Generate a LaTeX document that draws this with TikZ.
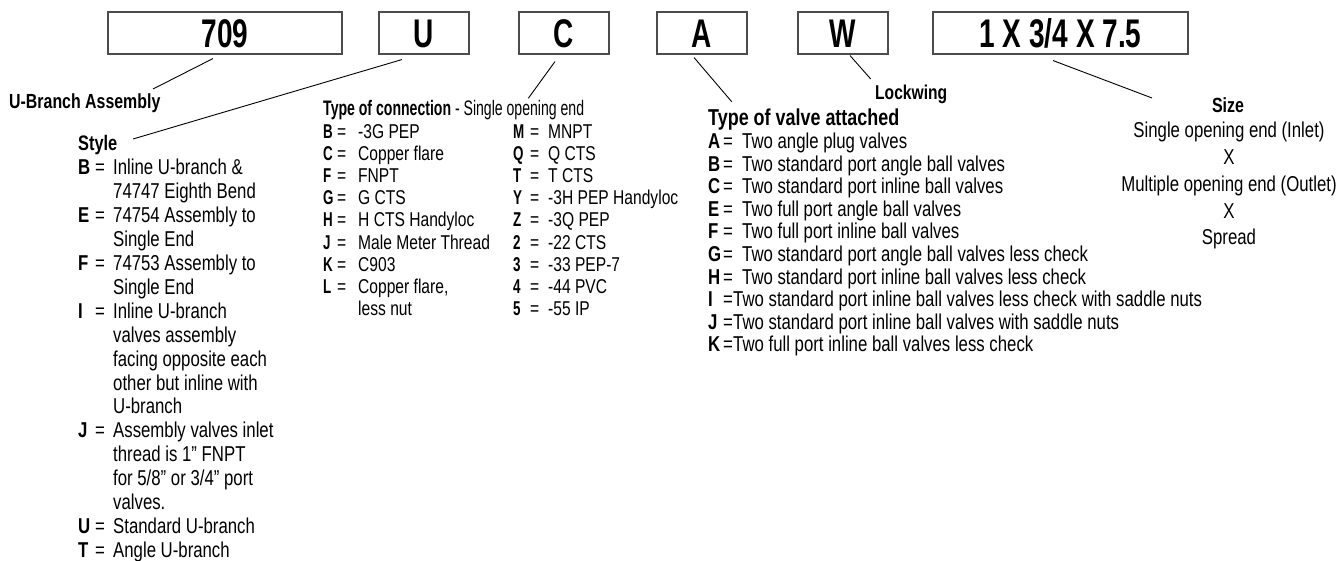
\documentclass[tikz,border=0pt]{standalone}
\usepackage{fontspec}
\setmainfont{Liberation Sans}[FakeStretch=0.78]
\newfontfamily\boxfont{Liberation Sans}[FakeStretch=0.70]
\newfontfamily\condfont{Liberation Sans}[FakeStretch=0.67]
\usetikzlibrary{calc}
\tikzset{
  codebox/.style={draw=black!70, line width=1.1pt, inner sep=0pt,
    font=\boxfont\bfseries\fontsize{40}{40}\selectfont, text height=29pt, text depth=0pt,
    minimum height=42pt},
  leader/.style={line width=0.9pt, black},
  txt/.style={inner sep=0pt, anchor=base west},
}
\begin{document}
\begin{tikzpicture}[x=1pt,y=-1pt]
\useasboundingbox (0,0) rectangle (1341,561);
% code boxes
\node[codebox, minimum width=234pt] (b709) at (225,33) {709};
\node[codebox, minimum width=90pt] (bU) at (424,33) {U};
\node[codebox, minimum width=90pt] (bC) at (564,33) {C};
\node[codebox, minimum width=90pt] (bA) at (702,33) {A};
\node[codebox, minimum width=90pt] (bW) at (843,33) {W};
\node[codebox, minimum width=255pt] (bS) at (1060.5,33) {1 X 3/4 X 7.5};

% headings
\node[txt, font=\bfseries\fontsize{20.4}{24}\selectfont] (hub) at (9,109) {U-Branch Assembly};
\node[txt, font=\bfseries\fontsize{21}{24}\selectfont] (hstyle) at (78,151) {Style};
\node[txt, font=\condfont\fontsize{21}{22}\selectfont] (hconn) at (323,116) {\textbf{Type of connection} - Single opening end};
\node[txt, font=\bfseries\fontsize{23}{26}\selectfont] (hvalve) at (708,126) {Type of valve attached};
\node[txt, font=\bfseries\fontsize{20}{24}\selectfont] (hlock) at (875,100) {Lockwing};
\node[inner sep=0pt, anchor=base, font=\bfseries\fontsize{20.5}{24}\selectfont] (hsize) at (1228,113) {Size};

% style list
\node[txt, font=\fontsize{21.5}{23.9}\selectfont] (lstyle) at (78,175) {\begin{tabular}[t]{@{}p{17pt}@{}p{18pt}@{}l@{}}
\textbf{B} & = & Inline U-branch \&\\
 & & 74747 Eighth Bend\\
\textbf{E} & = & 74754 Assembly to\\
 & & Single End\\
\textbf{F} & = & 74753 Assembly to\\
 & & Single End\\
\textbf{I} & = & Inline U-branch\\
 & & valves assembly\\
 & & facing opposite each\\
 & & other but inline with\\
 & & U-branch\\
\textbf{J} & = & Assembly valves inlet\\
 & & thread is 1” FNPT\\
 & & for 5/8” or 3/4” port\\
 & & valves.\\
\textbf{U} & = & Standard U-branch\\
\textbf{T} & = & Angle U-branch
\end{tabular}};

% connection lists
\node[txt, font=\fontsize{20}{22.2}\selectfont] (lconnA) at (323,138.2) {\begin{tabular}[t]{@{}p{14pt}@{}p{21pt}@{}l@{}}
{\condfont\bfseries B} & = & -3G PEP\\
{\condfont\bfseries C} & = & Copper flare\\
{\condfont\bfseries F} & = & FNPT\\
{\condfont\bfseries G} & = & G CTS\\
{\condfont\bfseries H} & = & H CTS Handyloc\\
{\condfont\bfseries J} & = & Male Meter Thread\\
{\condfont\bfseries K} & = & C903\\
{\condfont\bfseries L} & = & Copper flare,\\
 & & less nut
\end{tabular}};
\node[txt, font=\fontsize{20}{22.2}\selectfont] (lconnB) at (513,138.2) {\begin{tabular}[t]{@{}p{17pt}@{}p{18pt}@{}l@{}}
{\condfont\bfseries M} & = & MNPT\\
{\condfont\bfseries Q} & = & Q CTS\\
{\condfont\bfseries T} & = & T CTS\\
{\condfont\bfseries Y} & = & -3H PEP Handyloc\\
{\condfont\bfseries Z} & = & -3Q PEP\\
{\condfont\bfseries 2} & = & -22 CTS\\
{\condfont\bfseries 3} & = & -33 PEP-7\\
{\condfont\bfseries 4} & = & -44 PVC\\
{\condfont\bfseries 5} & = & -55 IP
\end{tabular}};

% valve list
\node[txt, font=\fontsize{21.5}{22.6}\selectfont] (lvalve) at (708,148.6) {\begin{tabular}[t]{@{}p{15pt}@{}l@{}}
\textbf{A} & \makebox[19pt][l]{=}Two angle plug valves\\
\textbf{B} & \makebox[19pt][l]{=}Two standard port angle ball valves\\
\textbf{C} & \makebox[19pt][l]{=}Two standard port inline ball valves\\
\textbf{E} & \makebox[19pt][l]{=}Two full port angle ball valves\\
\textbf{F} & \makebox[19pt][l]{=}Two full port inline ball valves\\
\textbf{G} & \makebox[19pt][l]{=}Two standard port angle ball valves less check\\
\textbf{H} & \makebox[19pt][l]{=}Two standard port inline ball valves less check\\
\textbf{I} & \makebox[10pt][l]{=}Two standard port inline ball valves less check with saddle nuts\\
\textbf{J} & \makebox[10pt][l]{=}Two standard port inline ball valves with saddle nuts\\
\textbf{K} & \makebox[10pt][l]{=}Two full port inline ball valves less check
\end{tabular}};

% size block
\node[inner sep=0pt, anchor=base, font=\fontsize{21.5}{26.7}\selectfont] (lsize) at (1229,138) {\begin{tabular}[t]{@{}c@{}}
Single opening end (Inlet)\\
X\\
Multiple opening end (Outlet)\\
X\\
Spread
\end{tabular}};

% leader end points
\coordinate (e709) at (153,89);
\coordinate (eU) at (133,139);
\coordinate (eC) at (528.3,98.3);
\coordinate (eA) at (731.7,101.7);
\coordinate (eW) at (870.7,79);
\coordinate (eS) at (1152,98);

\draw[leader] ($(b709.south)+(-12,4)$) -- (e709);
\draw[leader] ($(bU.south)+(-22,5)$) -- (eU);
\draw[leader] ($(bC.south)+(-9,7)$) -- (eC);
\draw[leader] ($(bA.south)+(-8,3)$) -- (eA);
\draw[leader] ($(bW.south)+(7,1)$) -- (eW);
\draw[leader] ($(bS.south)+(-7.5,6)$) -- (eS);
\end{tikzpicture}
\end{document}
